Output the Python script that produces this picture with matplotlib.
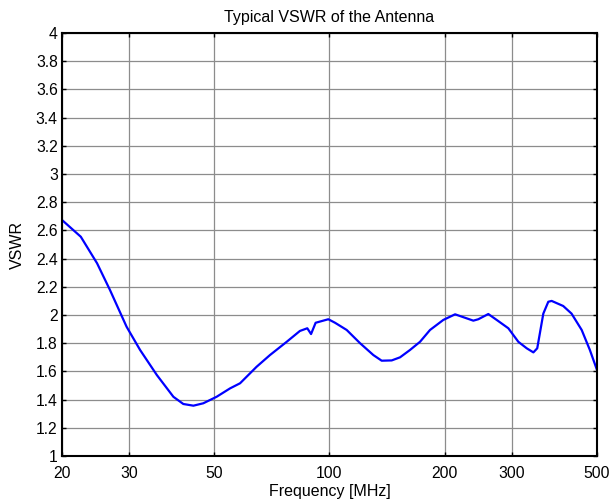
import numpy as np
import matplotlib
matplotlib.use("Agg")
import matplotlib.pyplot as plt
from matplotlib.ticker import FixedLocator, NullLocator

plt.rcParams['font.family'] = ['Liberation Sans', 'DejaVu Sans']

# valores
freq = [20, 22.4, 24.7, 26.7, 29.5, 32.0, 35.4, 39.1, 41.5, 44.1, 46.8, 50.7,
        55.0, 58.4, 64.5, 69.9, 77.3, 83.7, 87.5, 89.5, 92.0, 99.3, 103.4,
        110.9, 120.2, 130.2, 136.9, 145.4, 152.9, 162.3, 172.4, 183.1, 198.3,
        212.9, 237.6, 244.8, 260, 273.5, 293.3, 311.5, 327.6, 341, 349, 362,
        373, 380.6, 408, 429, 456, 479, 500]
vswr = [2.674, 2.555, 2.367, 2.177, 1.917, 1.752, 1.574, 1.42, 1.369, 1.357,
        1.374, 1.42, 1.48, 1.516, 1.633, 1.716, 1.81, 1.887, 1.906, 1.865,
        1.945, 1.97, 1.945, 1.894, 1.8, 1.716, 1.676, 1.678, 1.70, 1.752,
        1.81, 1.894, 1.965, 2.005, 1.96, 1.97, 2.007, 1.965, 1.906, 1.81,
        1.764, 1.735, 1.764, 2.01, 2.094, 2.10, 2.064, 2.01, 1.894, 1.752, 1.61]

xticks = [20, 30, 50, 100, 200, 300, 500]
yticks = np.round(np.arange(1, 4.01, 0.2), 1)

fig = plt.figure(figsize=(6.13, 5.04), dpi=100)
ax = fig.add_axes([0.1011, 0.0952, 0.8728, 0.8393])

ax.plot(freq, vswr, color='#0000ff', lw=1.6)

ax.set_xscale('log')
ax.set_xlim(20, 500)
ax.set_ylim(1, 4)
ax.xaxis.set_major_locator(FixedLocator(xticks))
ax.xaxis.set_minor_locator(NullLocator())
ax.set_xticklabels([str(t) for t in xticks])
ax.set_yticks(yticks)
ax.set_yticklabels(['%g' % t for t in yticks])

ax.grid(True, color='#8c8c8c', lw=0.9, ls='-')
ax.tick_params(direction='in', top=True, right=True, labelsize=11.3, length=3,
               width=1, colors='black', pad=3)
ax.tick_params(axis='x', pad=7)
for s in ax.spines.values():
    s.set_linewidth(1.5)

ax.set_xlabel('Frequency [MHz]', fontsize=11.5, labelpad=2)
ax.set_ylabel('VSWR', fontsize=11.5, labelpad=8)
ax.set_title('Typical VSWR of the Antenna', fontsize=11.5, pad=8)

fig.savefig('out.png', dpi=100)
